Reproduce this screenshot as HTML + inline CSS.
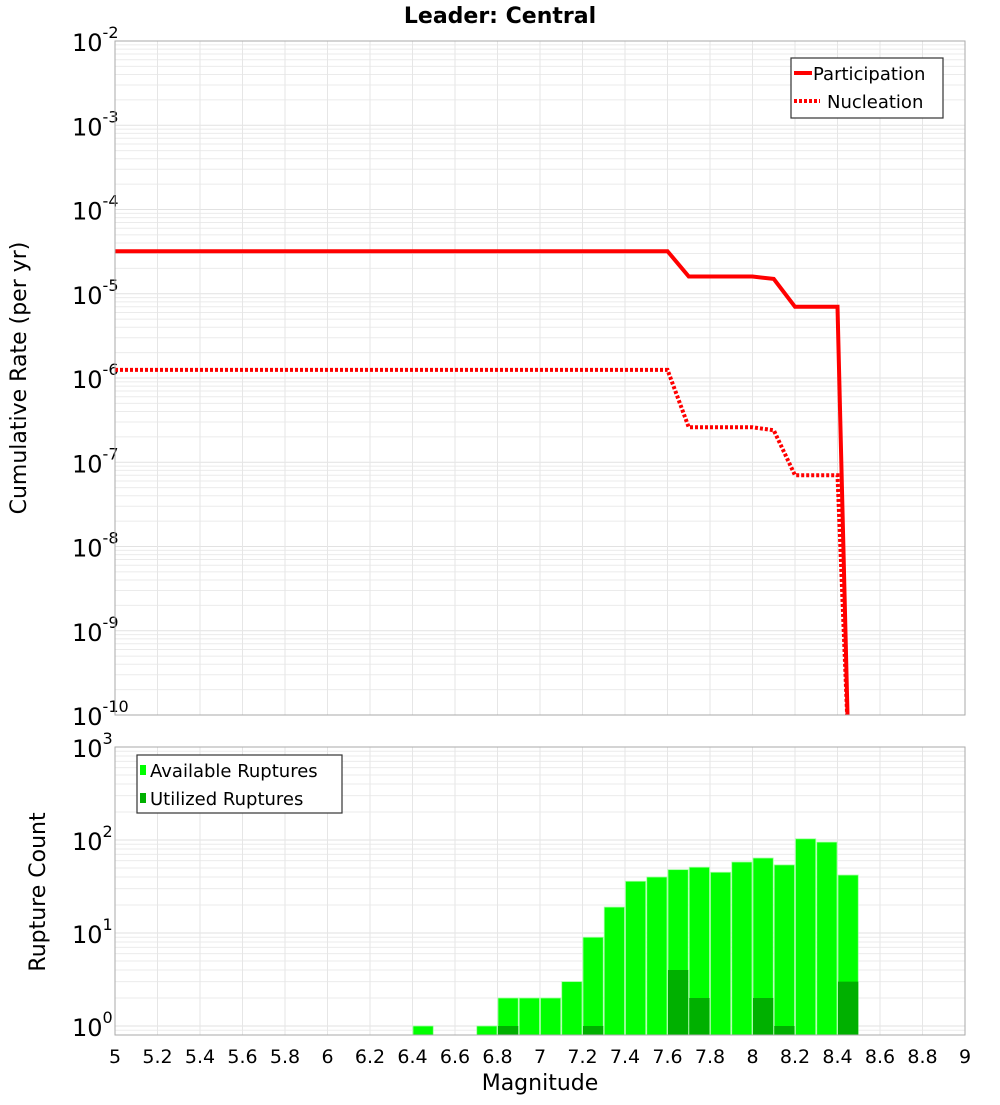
<!DOCTYPE html>
<html><head><meta charset="utf-8"><style>
body{margin:0;background:#fff;}
svg text{font-family:"DejaVu Sans","Liberation Sans",sans-serif;}
</style></head><body>
<svg id="c" width="1000" height="1100" xmlns="http://www.w3.org/2000/svg">
<defs>
<clipPath id="clipTop"><rect x="115" y="41" width="850" height="674"/></clipPath>
<clipPath id="clipBot"><rect x="115" y="747" width="850" height="288"/></clipPath>
</defs>
<rect width="1000" height="1100" fill="#fff"/>
<text x="500" y="23" text-anchor="middle" font-size="22" font-weight="bold">Leader: Central</text>
<g id="gTop"></g>
<g id="gBot"></g>
<text transform="translate(26,378) rotate(-90)" text-anchor="middle" font-size="22">Cumulative Rate (per yr)</text>
<text transform="translate(45,892) rotate(-90)" text-anchor="middle" font-size="22">Rupture Count</text>
<text x="540" y="1090" text-anchor="middle" font-size="22">Magnitude</text>
<g>
<rect x="791" y="58" width="152" height="60" fill="#fff" stroke="#333" stroke-width="1.2"/>
<line x1="794" y1="73" x2="812" y2="73" stroke="#f00" stroke-width="4"/>
<text x="813" y="80" font-size="18">Participation</text>
<line x1="794" y1="101" x2="820" y2="101" stroke="#f00" stroke-width="4" stroke-dasharray="3,2"/>
<text x="827" y="108" font-size="18">Nucleation</text>
</g>
<g>
<rect x="137" y="755" width="205" height="58" fill="#fff" stroke="#333" stroke-width="1.2"/>
<rect x="140" y="765" width="6" height="10" fill="#00ff00"/>
<text x="150" y="777" font-size="18">Available Ruptures</text>
<rect x="140" y="793" width="6" height="10" fill="#00b000"/>
<text x="150" y="805" font-size="18">Utilized Ruptures</text>
</g>
</svg>
<script>
const magTicks=[5,5.2,5.4,5.6,5.8,6,6.2,6.4,6.6,6.8,7,7.2,7.4,7.6,7.8,8,8.2,8.4,8.6,8.8,9];
const partMags=[5,7.6,7.7,8.0,8.1,8.2,8.4,8.45];
const partRates=[3.2e-5,3.2e-5,1.6e-5,1.6e-5,1.5e-5,7e-6,7e-6,5e-11];
const nuclMags=[5,7.6,7.7,8.0,8.1,8.2,8.4,8.45];
const nuclRates=[1.25e-6,1.25e-6,2.6e-7,2.6e-7,2.4e-7,7e-8,7e-8,5e-11];
const binMags=[6.4,6.7,6.8,6.9,7.0,7.1,7.2,7.3,7.4,7.5,7.6,7.7,7.8,7.9,8.0,8.1,8.2,8.3,8.4];
const availCounts=[1,1,2,2,2,3,9,19,36,40,48,51,45,58,64,54,103,95,42];
const usedCounts=[0,0,1,0,0,0,1,0,0,0,4,2,0,0,2,1,0,0,3];
const topExp=[-10,-9,-8,-7,-6,-5,-4,-3,-2];
const botExp=[0,1,2,3];
const NS="http://www.w3.org/2000/svg";
const X=m=>115+(m-5)*212.5;
const YT=v=>41+(-2-Math.log10(v))*84.25;
const YB=v=>1026-Math.log10(v)*93;
function mk(p,t,a){const e=document.createElementNS(NS,t);for(const k in a)e.setAttribute(k,a[k]);p.appendChild(e);return e;}
const gT=document.getElementById('gTop'),gB=document.getElementById('gBot');
// grids
function grid(g,y0,y1,yf,exps,lo){
 for(let i=0;i<exps.length-1;i++)for(let k=2;k<10;k++){const y=yf(k*Math.pow(10,exps[i]));
  const l=mk(g,'line',{x1:115,x2:965,y1:y,y2:y,stroke:'#ebebeb','stroke-width':1});
  }
 if(lo){for(let k=8;k<10;k++){const y=yf(k/10);const l=mk(g,'line',{x1:115,x2:965,y1:y,y2:y,stroke:'#ebebeb'});}}
 exps.forEach(e=>{const y=yf(Math.pow(10,e));const l=mk(g,'line',{x1:115,x2:965,y1:y,y2:y,stroke:'#e2e2e2'});
  });
 magTicks.forEach(m=>{const l=mk(g,'line',{x1:X(m),x2:X(m),y1:y0,y2:y1,stroke:'#e6e6e6'});
  });
}
grid(gT,41,715,YT,topExp,false);
grid(gB,747,1035,YB,botExp,true);
// y tick labels
function ylab(g,exps,yf,name){exps.forEach(e=>{const y=yf(Math.pow(10,e));const t=mk(g,'text',{x:72,y:y+10,'font-size':24});
 
 t.textContent='10';const s=mk(t,'tspan',{dy:-13,'font-size':16});s.textContent=String(e);});}
ylab(gT,topExp,YT,'top-y-tick-label');ylab(gB,botExp,YB,'bottom-y-tick-label');
// lines
function path(ms,vs,dash,name){let d='';ms.forEach((m,i)=>{d+=(i?'L':'M')+X(m)+','+YT(vs[i]);});
 const a={d:d,fill:'none',stroke:'#f00','stroke-width':4,'clip-path':'url(#clipTop)'};if(dash)a['stroke-dasharray']='3,2';
 const p=mk(gT,'path',a);}
path(partMags,partRates,false,'participation-line');
path(nuclMags,nuclRates,true,'nucleation-line');
// bars
const bw=0.1;
binMags.forEach((m,i)=>{const x0=X(m)+0.5,x1=X(m+bw)-0.5,base=1035;
 let y=YB(availCounts[i]);const r=mk(gB,'rect',{x:x0,y:y,width:x1-x0,height:base-y,fill:'#00ff00',stroke:'#a0ffa0','stroke-width':0.8,'clip-path':'url(#clipBot)'});
 
 if(usedCounts[i]>0){y=YB(usedCounts[i]);const u=mk(gB,'rect',{x:x0,y:y,width:x1-x0,height:base-y,fill:'#00b000','clip-path':'url(#clipBot)'});
 }
});
// frames
[[gT,41,674],[gB,747,288]].forEach(([g,y,h])=>{const f=mk(g,'rect',{x:115,y:y,width:850,height:h,fill:'none',stroke:'#aaa'});
 });
magTicks.forEach(m=>{const t=mk(gB,'text',{x:X(m),y:1063,'text-anchor':'middle','font-size':19});
 t.textContent=String(m);});
</script>
</body></html>
